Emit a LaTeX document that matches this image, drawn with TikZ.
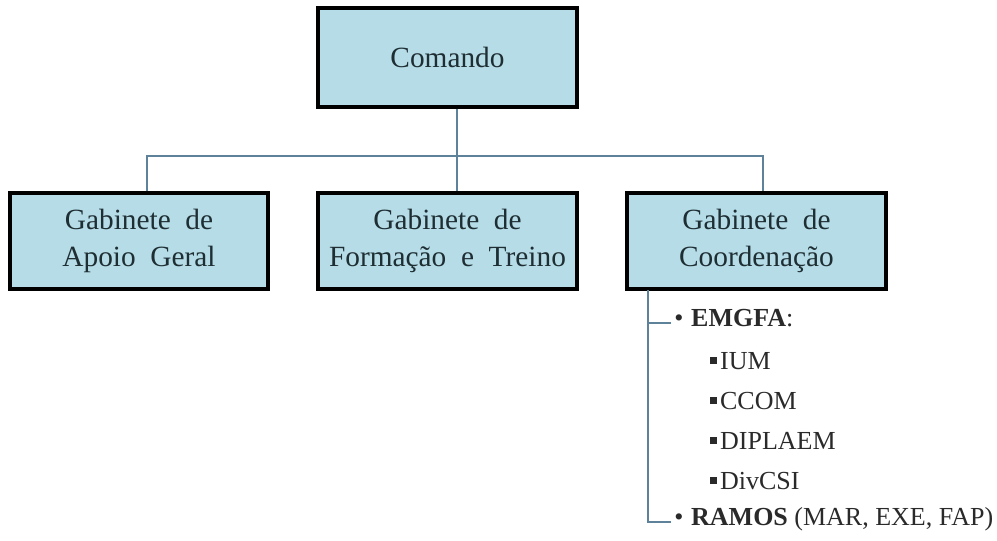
\documentclass[tikz,border=0pt]{standalone}
\usepackage{fontspec}
\setmainfont{Liberation Serif}
\usetikzlibrary{calc}
\definecolor{boxfill}{HTML}{B5DCE7}
\definecolor{linecol}{HTML}{5E8299}
\definecolor{boxtext}{HTML}{1E2E33}
\definecolor{listtext}{HTML}{2A2A2A}
\tikzset{
  orgbox/.style={draw=black, line width=2.3pt, fill=boxfill, text=boxtext,
    align=center, inner sep=0pt, font=\fontsize{22}{27.5}\selectfont},
  conn/.style={draw=linecol, line width=1.4pt},
  item/.style={anchor=west, inner sep=0pt, text=listtext, text height=0.72em, text depth=0.2em,
    font=\fontsize{19.5}{22}\selectfont},
}
\newcommand{\sqbul}{\raisebox{0.22em}{\rule{0.26em}{0.26em}}\hspace{0.12em}}
\begin{document}
\begin{tikzpicture}[x=0.75pt, y=-0.75pt]
\useasboundingbox (0,0) rectangle (997,540);
\node[orgbox, minimum width=259*0.75pt, minimum height=99*0.75pt] (cmd) at (447.5,57.5) {Comando};
\node[orgbox, minimum width=258*0.75pt, minimum height=96*0.75pt] (g1) at (139,241) {Gabinete\ \ de\\Apoio\ \ Geral};
\node[orgbox, minimum width=259*0.75pt, minimum height=96*0.75pt] (g2) at (447.5,241) {Gabinete\ \ de\\Formação\ \ e\ \ Treino};
\node[orgbox, minimum width=259*0.75pt, minimum height=96*0.75pt] (g3) at (756.5,241) {Gabinete\ \ de\\Coordenação};

\coordinate (bus) at (0,156);
\draw[conn] ($(cmd.south)+(9.5,0)$) -- ($(g2.north)+(9.5,0)$);
\draw[conn] ($(g1.north)+(8,0)$) |- (bus -| 457,0) -| ($(g3.north)+(6.5,0)$);

\node[item] (emgfa) at (674,323) {\textbullet\hspace{0.3em}\textbf{EMGFA}:};
\node[item] (ium) at (710,366) {\sqbul IUM};
\node[item] (ccom) at (710,406) {\sqbul CCOM};
\node[item] (dipl) at (710,446) {\sqbul DIPLAEM};
\node[item] (div) at (710,486) {\sqbul DivCSI};
\node[item] (ramos) at (674,522) {\textbullet\hspace{0.3em}\textbf{RAMOS} (MAR, EXE, FAP)};

\coordinate (br) at (648,290);
\draw[conn] (br) |- ($(ramos.west)+(-3,0)$);
\draw[conn] (br |- emgfa.west) -- ($(emgfa.west)+(-3,0)$);
\end{tikzpicture}
\end{document}
